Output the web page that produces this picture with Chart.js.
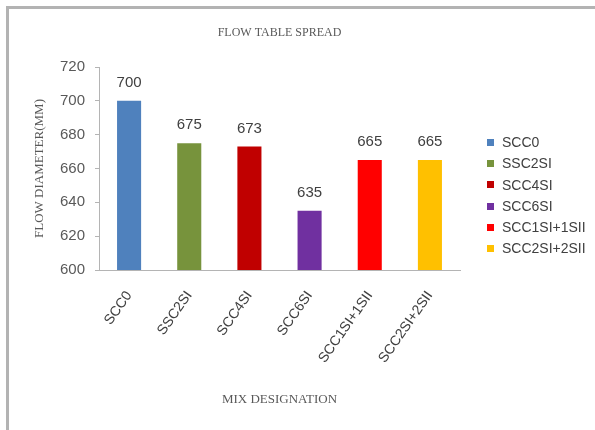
<!DOCTYPE html>
<html>
<head>
<meta charset="utf-8">
<title>Flow table spread</title>
<script src="https://cdn.jsdelivr.net/npm/chart.js@4.4.0/dist/chart.umd.min.js"></script>
<style>
  html, body { margin: 0; padding: 0; background: #fff; }
  #wrap { position: relative; width: 595px; height: 430px; overflow: hidden; }
  #frame { position: absolute; left: 6px; top: 6px; right: 0; bottom: 0; border-left: 3px solid #b3b3b3; border-top: 3px solid #b3b3b3; }
  #chart { position: absolute; left: 0; top: 0; }
  #legend { position: absolute; left: 487px; top: 132px; margin: 0; padding: 0; list-style: none; font: 14px 'Liberation Sans', Arial, sans-serif; color: #404040; }
  #legend li { height: 21.3px; line-height: 21.3px; white-space: nowrap; }
  #legend span { display: inline-block; width: 7px; height: 7px; margin-right: 8px; vertical-align: middle; position: relative; top: -1px; }
</style>
</head>
<body>
<div id="wrap">
  <div id="frame"></div>
  <canvas id="chart" width="595" height="430"></canvas>
  <ul id="legend"></ul>
</div>
<script>
const mixes = ['SCC0', 'SSC2SI', 'SCC4SI', 'SCC6SI', 'SCC1SI+1SII', 'SCC2SI+2SII'];
const flowDiameter = [700, 675, 673, 635, 665, 665];
const barColors = ['#4f81bd', '#77933c', '#c00000', '#7030a0', '#ff0000', '#ffc000'];
const yTicks = [600, 620, 640, 660, 680, 700, 720];

const sans = "'Liberation Sans', Arial, sans-serif";
const serif = "'Liberation Serif', 'Times New Roman', serif";
const textGrey = '#595959';
const axisGrey = '#b4b4b4';

// value printed above each bar
const valueLabels = {
  id: 'valueLabels',
  afterDatasetsDraw(chart) {
    const { ctx } = chart;
    ctx.save();
    ctx.font = '15px ' + sans;
    ctx.fillStyle = '#404040';
    ctx.textAlign = 'center';
    ctx.textBaseline = 'alphabetic';
    chart.getDatasetMeta(0).data.forEach((bar, i) => {
      ctx.fillText(String(flowDiameter[i]), bar.x, bar.y - 14);
    });
    ctx.restore();
  }
};

new Chart(document.getElementById('chart'), {
  type: 'bar',
  data: {
    labels: mixes,
    datasets: [{
      label: 'Flow diameter',
      data: flowDiameter,
      backgroundColor: barColors,
      barPercentage: 0.4,
      categoryPercentage: 1
    }]
  },
  options: {
    responsive: false,
    animation: false,
    layout: { padding: { top: 10, left: 28.2, right: 135, bottom: 18.2 } },
    plugins: {
      legend: { display: false },
      tooltip: { enabled: false },
      title: {
        display: true,
        text: 'FLOW TABLE SPREAD',
        fullSize: false,
        color: textGrey,
        font: { family: serif, size: 12, weight: 'normal' },
        padding: { top: 15.8, bottom: 26.8 }
      }
    },
    scales: {
      x: {
        grid: { display: false, drawTicks: false },
        border: { color: axisGrey },
        ticks: {
          color: '#404040',
          font: { family: sans, size: 14 },
          minRotation: 55,
          maxRotation: 55,
          padding: 18
        },
        title: {
          display: true,
          text: 'MIX DESIGNATION',
          color: textGrey,
          font: { family: serif, size: 13 },
          padding: { top: 4, bottom: 4 }
        },
        afterFit: (scale) => { scale.height = 141.8; }
      },
      y: {
        min: yTicks[0],
        max: yTicks[yTicks.length - 1],
        afterBuildTicks: (scale) => { scale.ticks = yTicks.map((value) => ({ value })); },
        grid: { drawOnChartArea: false, color: axisGrey, tickLength: 4 },
        border: { color: axisGrey },
        ticks: { color: textGrey, font: { family: sans, size: 15 }, padding: 10 },
        title: {
          display: true,
          text: 'FLOW DIAMETER(MM)',
          color: textGrey,
          font: { family: serif, size: 13 },
          padding: { top: 4, bottom: 4 }
        },
        afterFit: (scale) => { scale.width = 70.8; }
      }
    }
  },
  plugins: [valueLabels]
});

const legend = document.getElementById('legend');
mixes.forEach((name, i) => {
  const item = document.createElement('li');
  const swatch = document.createElement('span');
  swatch.style.background = barColors[i];
  item.appendChild(swatch);
  item.appendChild(document.createTextNode(name));
  legend.appendChild(item);
});
</script>
</body>
</html>
